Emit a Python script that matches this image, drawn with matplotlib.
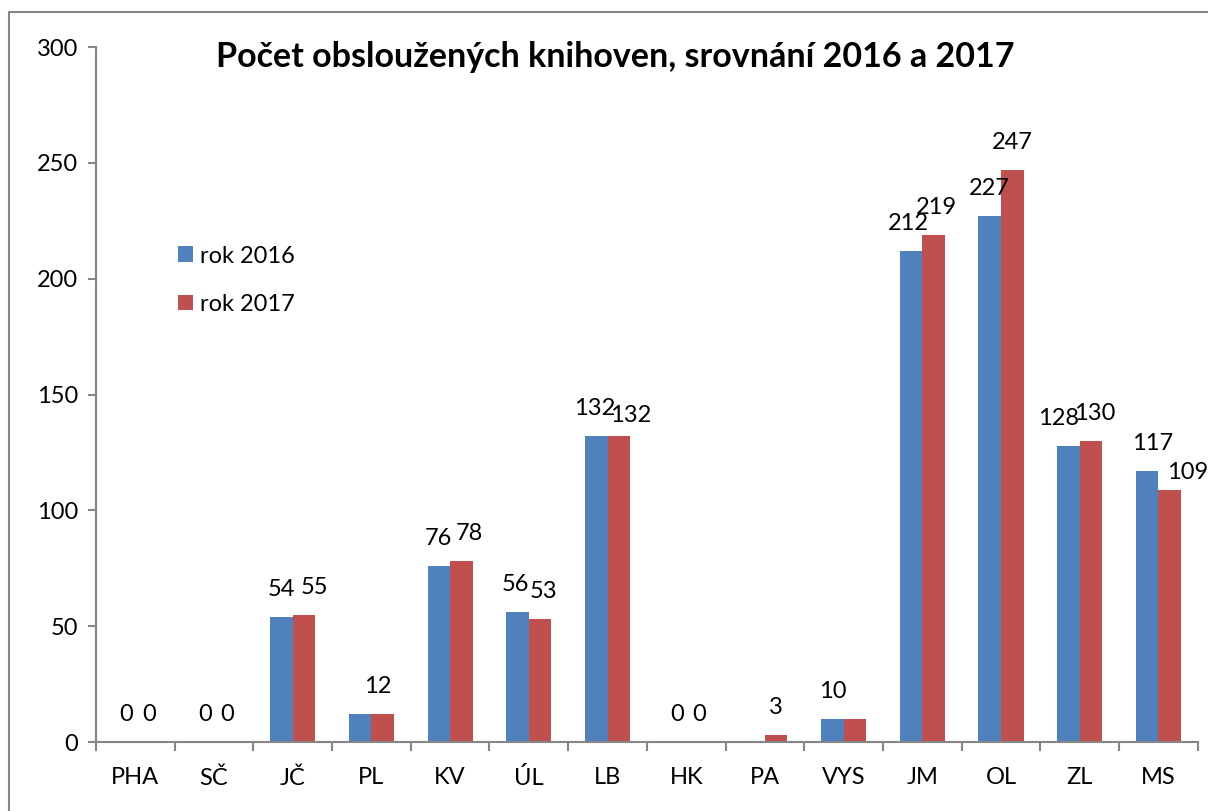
import numpy as np
import matplotlib.pyplot as plt
from matplotlib.patches import Rectangle
from matplotlib.ticker import FixedLocator

plt.rcParams['font.family'] = ['Lato', 'DejaVu Sans']

regions = ['PHA', 'SČ', 'JČ', 'PL', 'KV', 'ÚL', 'LB', 'HK', 'PA', 'VYS', 'JM', 'OL', 'ZL', 'MS']
rok2016 = [0, 0, 54, 12, 76, 56, 132, 0, 0, 10, 212, 227, 128, 117]
rok2017 = [0, 0, 55, 12, 78, 53, 132, 0, 3, 10, 219, 247, 130, 109]
labels2016 = ['0', '0', '54', '', '76', '56', '132', '0', '', '10', '212', '227', '128', '117']
labels2017 = ['0', '0', '55', '12', '78', '53', '132', '0', '3', '', '219', '247', '130', '109']

blue = '#4F81BD'
red = '#C0504D'
gray = '#868686'

# label nudges (pixels) like the overlap shifting in the original
nudge2016 = {0: (2, 0), 1: (2, 0), 5: (-2, 0), 6: (-2, 0), 7: (2, 0), 10: (-3, 0),
             12: (-10, 0), 13: (5, 0)}
nudge2017 = {0: (2, 0), 1: (2, 0), 2: (10, 0), 3: (-5, 0), 4: (8, 0), 5: (3, 0),
             6: (12, -7), 7: (2, 0), 9: (-8, 0), 10: (3, 0), 12: (4, 0), 13: (18, -10)}

fig = plt.figure(figsize=(12.08, 8.11), dpi=100)
ax = fig.add_axes([0.0795, 0.085, 0.912, 0.857])

x = np.arange(len(regions))
w = 0.286
ax.bar(x - w / 2, rok2016, w, color=blue, label='rok 2016')
ax.bar(x + w / 2, rok2017, w, color=red, label='rok 2017')

for xs, vals, labs, nudge in [(x - w / 2, rok2016, labels2016, nudge2016),
                              (x + w / 2, rok2017, labels2017, nudge2017)]:
    for i, (xi, v, t) in enumerate(zip(xs, vals, labs)):
        if not t:
            continue
        dx, dy = nudge.get(i, (0, 0))
        ax.annotate(t, (xi, v), xytext=(dx, 17 + dy), textcoords='offset pixels',
                    ha='center', va='bottom', fontsize=17, annotation_clip=False)

ax.set_xlim(-0.5, len(regions) - 0.5)
ax.set_ylim(0, 300)
ax.set_yticks(range(0, 301, 50))
ax.set_xticks(x)
ax.set_xticklabels(regions)
ax.xaxis.set_minor_locator(FixedLocator(np.arange(-0.5, len(regions), 1)))
ax.tick_params(axis='x', which='major', length=0, pad=18, labelsize=17)
ax.tick_params(axis='x', which='minor', length=6.5, width=1.5, color=gray, direction='out')
ax.tick_params(axis='y', length=6, width=1.5, color=gray, pad=7, labelsize=17)

for s in ['top', 'right']:
    ax.spines[s].set_visible(False)
for s in ['left', 'bottom']:
    ax.spines[s].set_color(gray)
    ax.spines[s].set_linewidth(1.5)

fig.text(0.509, 0.93, 'Počet obsloužených knihoven, srovnání 2016 a 2017',
         ha='center', va='center', fontsize=24.5, fontweight='bold')

ax.legend(loc='upper left', bbox_to_anchor=(0.055, 0.745), frameon=False,
          fontsize=17, handlelength=0.64, handleheight=0.64, handletextpad=0.3,
          labelspacing=1.15)

fig.patches.append(Rectangle((9 / 1208, -0.05), 1.1, 1 - 12 / 811 + 0.05,
                             transform=fig.transFigure, fill=False,
                             edgecolor=gray, linewidth=1.5))

fig.savefig('out.png', dpi=100)
